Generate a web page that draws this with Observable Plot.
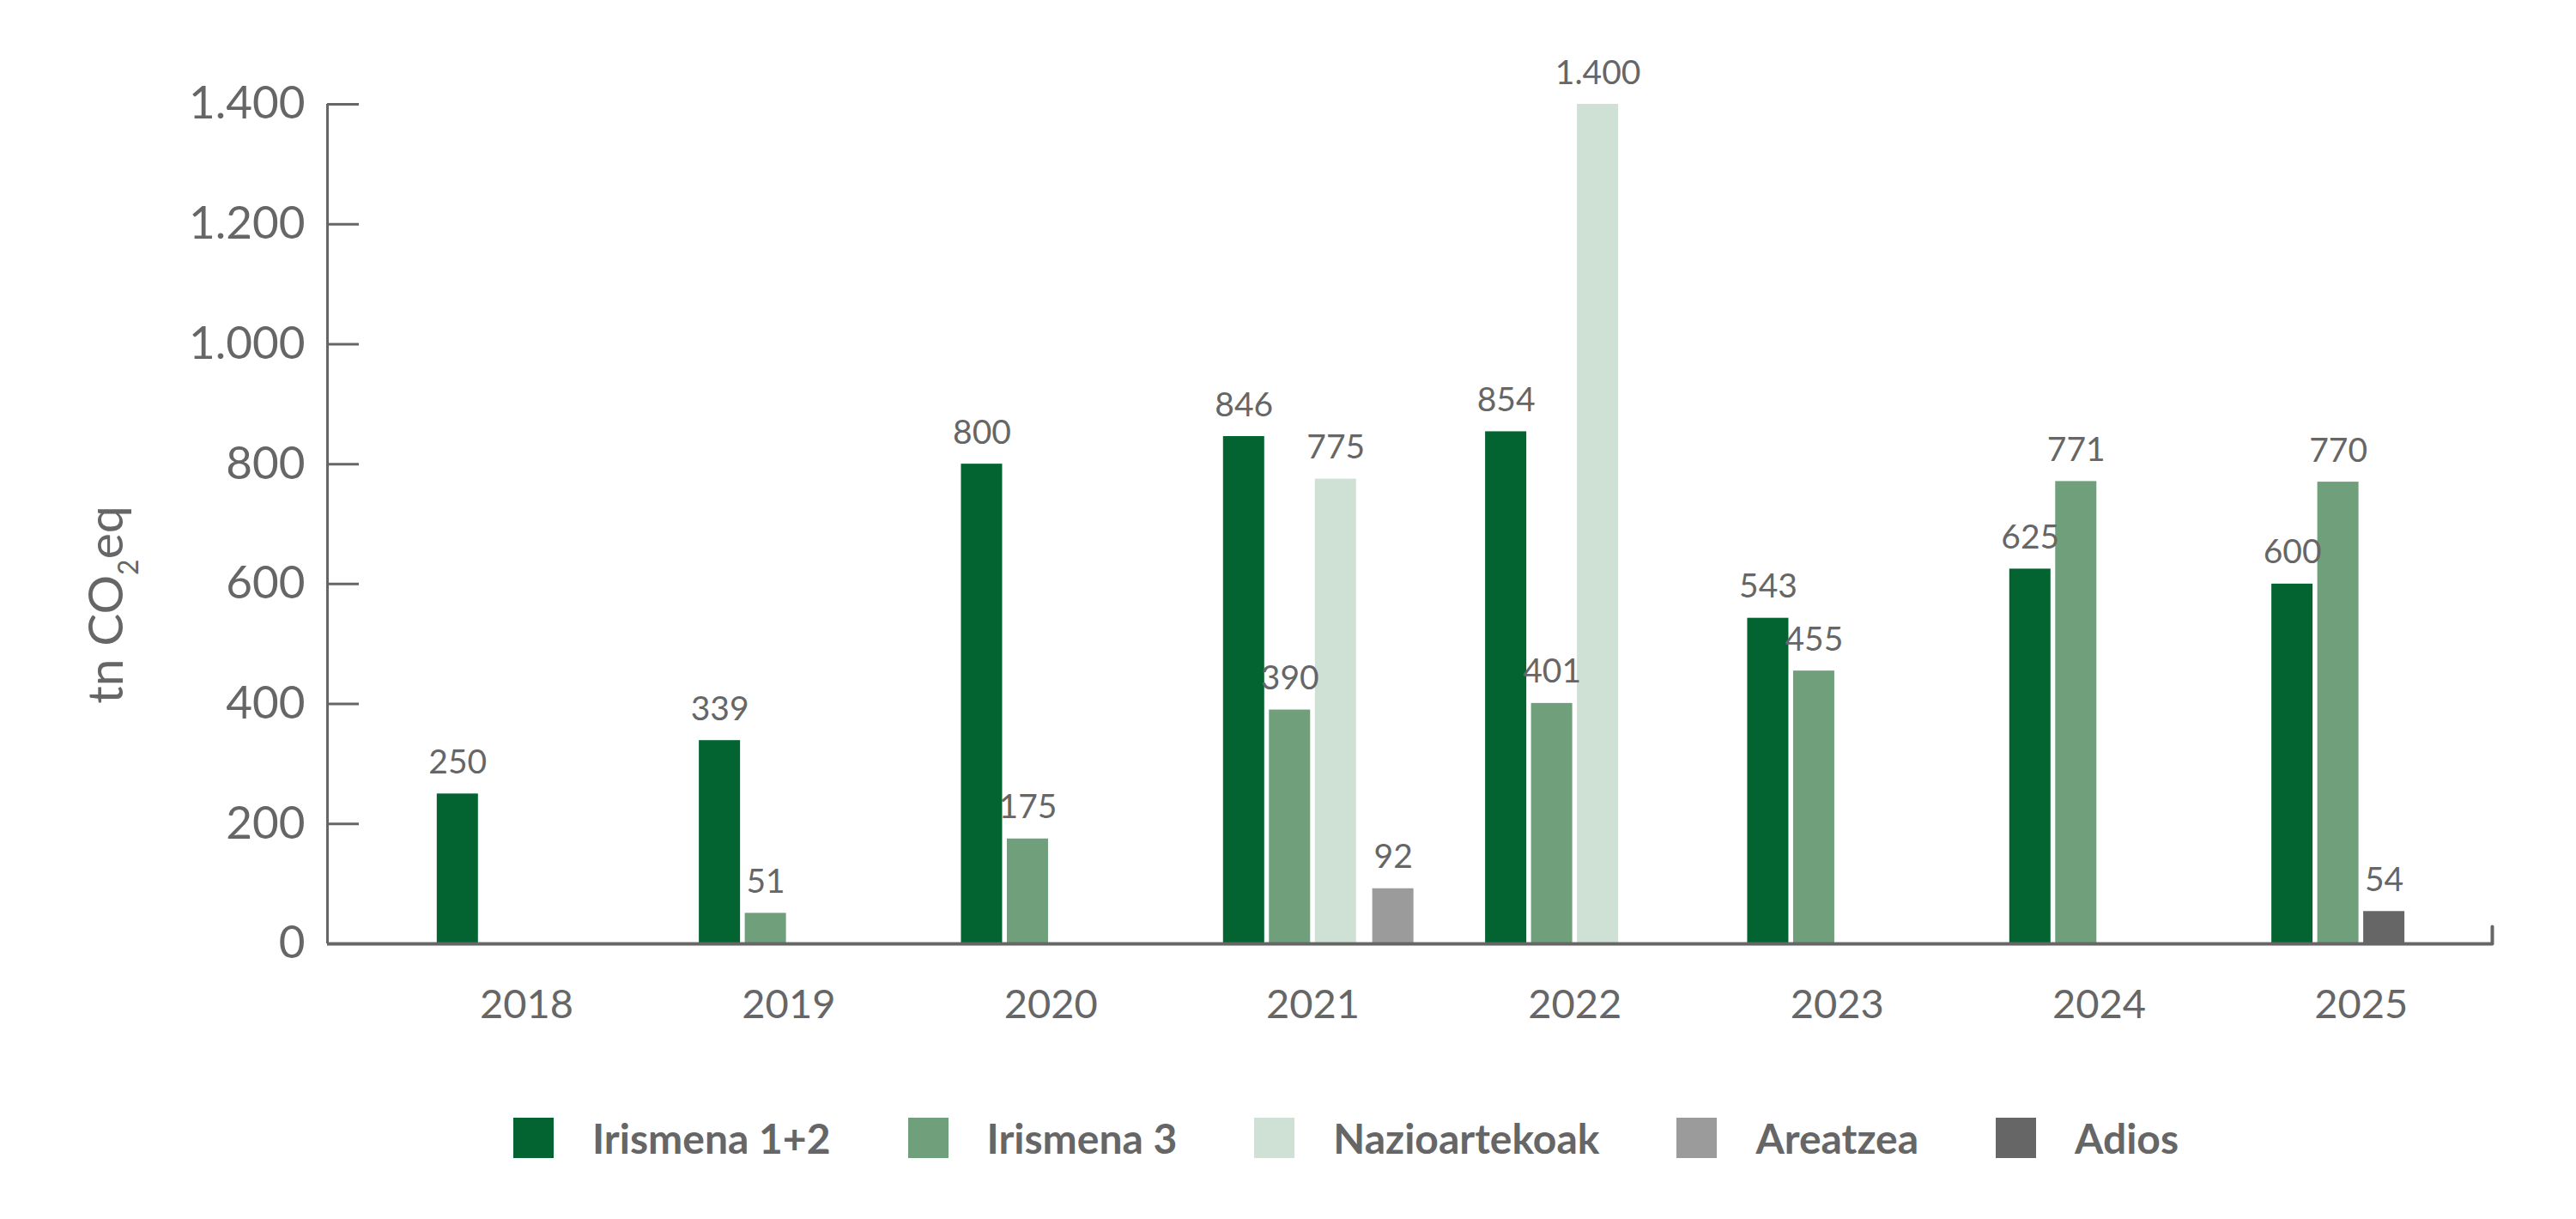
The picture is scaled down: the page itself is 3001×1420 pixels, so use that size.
<!DOCTYPE html>
<html>
<head>
<meta charset="utf-8">
<script src="https://cdn.jsdelivr.net/npm/d3@7"></script>
<script src="https://cdn.jsdelivr.net/npm/@observablehq/plot@0.6"></script>
<style>
  html, body { margin: 0; padding: 0; background: #ffffff; }
  body { font-family: Lato, "Open Sans", sans-serif; width: 3001px; }
  #legend { display: flex; align-items: center; margin-left: 598px; margin-top: 62px; height: 47px; }
  #legend .item { display: flex; align-items: center; margin-right: 90px; }
  #legend .sw { width: 47px; height: 47px; margin-right: 45px; }
  #legend .lab { font-family: Lato, sans-serif; font-weight: 700; font-size: 48px; color: #666666; line-height: 47px; white-space: nowrap; }
</style>
</head>
<body>
<div id="chart"></div>
<div id="legend"></div>
<script>
// ---------- DATA ----------
const years = [2018, 2019, 2020, 2021, 2022, 2023, 2024, 2025];
const seriesNames = ["Irismena 1+2", "Irismena 3", "Nazioartekoak", "Areatzea", "Adios"];
const irismena12    = [250, 339, 800, 846, 854, 543, 625, 600];
const irismena3     = [null, 51, 175, 390, 401, 455, 771, 770];
const nazioartekoak = [null, null, null, 775, 1400, null, null, null];
const areatzea      = [null, null, null, 92, null, null, null, null];
const adios         = [null, null, null, null, null, null, null, 54];
const seriesColors  = ["#036432", "#6fa07b", "#cfe0d5", "#9b9b9b", "#666666"];
const yTicks = [0, 200, 400, 600, 800, 1000, 1200, 1400];
const yTitle = "tn CO₂eq";

// ---------- LAYOUT ----------
const seriesValues = [irismena12, irismena3, nazioartekoak, areatzea, adios];
const seriesSlot = [0, 1, 2, 3.25, 2];    // column inside each year group
const slotStep = 0.1752;                  // in year units
const barWidth = 0.1572;
const xDomain = [2017.24, 2025.5];

const rows = [];
seriesNames.forEach((name, s) => {
  seriesValues[s].forEach((v, i) => {
    if (v != null) rows.push({year: years[i], series: name, slot: seriesSlot[s], value: v});
  });
});
const center = d => d.year + (d.slot - 1.5) * slotStep;

const fmt = d3.formatLocale({decimal: ",", thousands: ".", grouping: [3], currency: ["", "€"]}).format(",d");
const grey = "#666666";

const chart = Plot.plot({
  width: 3001,
  height: 1240,
  marginLeft: 381,
  marginRight: 98,
  marginTop: 121,
  marginBottom: 141,
  style: {fontFamily: "Lato, 'Open Sans', sans-serif", background: "#ffffff", color: grey},
  x: {type: "linear", domain: xDomain, label: null},
  y: {domain: [0, 1400], label: null},
  color: {domain: seriesNames, range: seriesColors},
  marks: [
    Plot.rect(rows, {
      x1: d => center(d) - barWidth / 2,
      x2: d => center(d) + barWidth / 2,
      y1: 0, y2: "value", fill: "series"
    }),
    Plot.text(rows, {
      x: center, y: "value", text: d => fmt(d.value),
      lineAnchor: "bottom", dy: -24, fontSize: 39, fill: grey
    }),
    Plot.ruleX([xDomain[0]], {stroke: grey, strokeWidth: 3}),
    Plot.ruleY([0], {stroke: grey, strokeWidth: 4}),
    Plot.vector([xDomain[1]], {
      x: d => d, y: 0, length: 20, anchor: "start", stroke: grey, strokeWidth: 4,
      shape: {draw(c, l) { c.moveTo(0, 0); c.lineTo(0, -l); }}
    }),
    Plot.axisY(yTicks, {
      tickSize: -37, tickPadding: 63, tickFormat: fmt, fontSize: 53,
      color: grey, strokeWidth: 3, label: null
    }),
    Plot.axisX(years, {
      tickSize: 0, tickPadding: 53, tickFormat: d => String(d), fontSize: 47,
      color: grey, label: null
    }),
    Plot.text([yTitle], {
      frameAnchor: "left", rotate: -90, dx: -239, dy: 94, fontSize: 57,
      fill: grey, textAnchor: "middle", lineAnchor: "bottom", text: d => d
    })
  ]
});
document.getElementById("chart").appendChild(chart);

// subscript in the axis title
d3.select(chart).selectAll("text").filter(function() { return this.textContent === yTitle; })
  .each(function() {
    const t = d3.select(this);
    t.text(null);
    t.append("tspan").text("tn CO");
    t.append("tspan").attr("dy", 18).attr("font-size", 32).text("2");
    t.append("tspan").attr("dy", -18).text("eq");
  });

// legend
const legend = d3.select("#legend");
seriesNames.forEach((name, i) => {
  const it = legend.append("div").attr("class", "item");
  it.append("div").attr("class", "sw").style("background", seriesColors[i]);
  it.append("div").attr("class", "lab").text(name);
});
</script>
</body>
</html>
